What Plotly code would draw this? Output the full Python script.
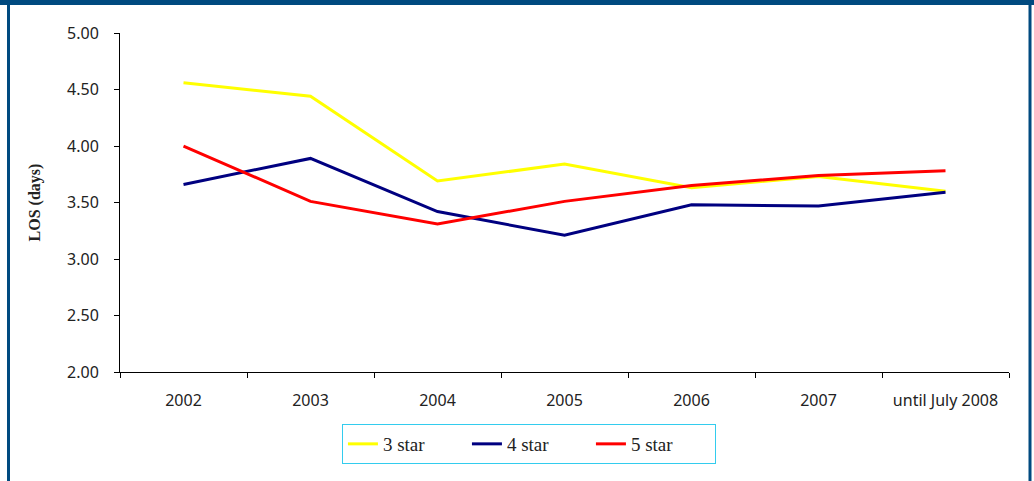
import plotly.graph_objects as go

categories = ["2002", "2003", "2004", "2005", "2006", "2007", "until July 2008"]
star3 = [4.56, 4.44, 3.69, 3.84, 3.63, 3.73, 3.60]
star4 = [3.66, 3.89, 3.42, 3.21, 3.48, 3.47, 3.59]
star5 = [4.00, 3.51, 3.31, 3.51, 3.65, 3.74, 3.78]
series = [("3 star", star3, "#ffff00"), ("4 star", star4, "#000080"), ("5 star", star5, "#ff0000")]

W, H = 1034, 481
L, R, T, B = 120, 25, 33, 109
pw, ph = W - L - R, H - T - B

fig = go.Figure()
for name, vals, col in series:
    fig.add_trace(go.Scatter(x=categories, y=vals, name=name, mode="lines",
                             line=dict(color=col, width=3)))

def px_x(x):
    return (x - L) / pw

def px_y(y):
    return (H - B - y) / ph

frame = "#004a80"
shapes = [
    dict(type="line", xref="paper", yref="paper", x0=px_x(0), x1=px_x(W), y0=px_y(2.5), y1=px_y(2.5),
         line=dict(color=frame, width=5)),
    dict(type="line", xref="paper", yref="paper", x0=px_x(8.5), x1=px_x(8.5), y0=px_y(0), y1=px_y(H),
         line=dict(color=frame, width=3)),
    dict(type="line", xref="paper", yref="paper", x0=px_x(1030), x1=px_x(1030), y0=px_y(0), y1=px_y(H),
         line=dict(color=frame, width=3)),
]

tickfont = dict(family="Noto Sans", size=16, color="#222222")

fig.update_layout(
    width=W, height=H,
    margin=dict(l=L, r=R, t=T, b=B),
    paper_bgcolor="white", plot_bgcolor="white",
    font=dict(family="Liberation Serif", color="#222222", size=16),
    shapes=shapes,
    showlegend=True,
    legend=dict(orientation="h", x=0.46, xanchor="center", y=px_y(424), yanchor="top",
                bordercolor="#33ccee", borderwidth=1, font=dict(size=19, color="#222222"),
                entrywidth=79, bgcolor="white", tracegroupgap=0),
    xaxis=dict(type="category", range=[-0.5, 6.5], showline=True, linecolor="black", linewidth=1,
               ticks="outside", tickson="boundaries", ticklen=5, tickcolor="black",
               showgrid=False, zeroline=False, tickfont=tickfont, ticklabelstandoff=14),
    yaxis=dict(range=[2, 5], dtick=0.5, tickformat=".2f", showline=True, linecolor="black",
               linewidth=1, ticks="outside", ticklen=5, tickcolor="black", showgrid=False,
               zeroline=False, tickfont=tickfont, ticklabelstandoff=12,
               title=dict(text="<b>LOS (days)</b>", font=dict(size=16), standoff=22)),
)

fig.write_html("out.html")
